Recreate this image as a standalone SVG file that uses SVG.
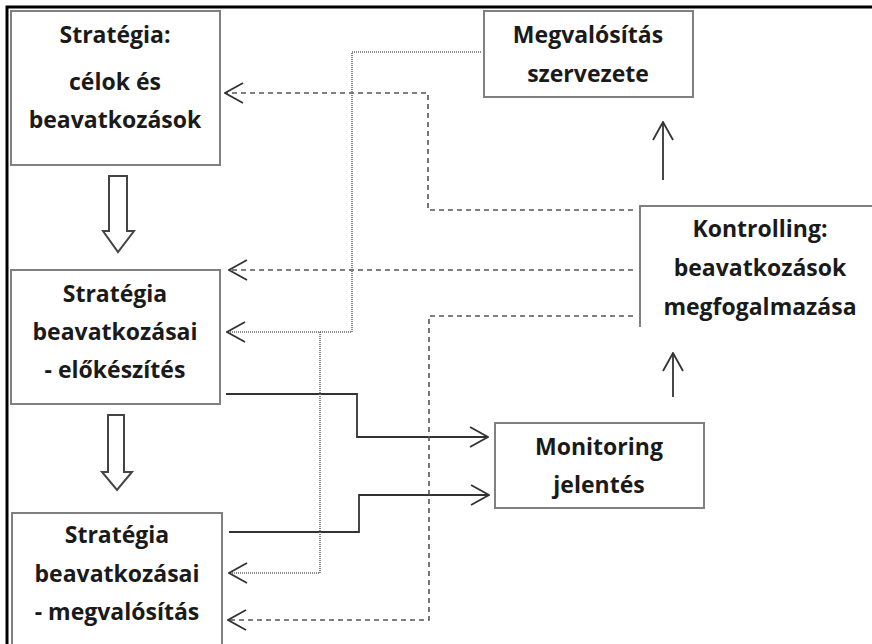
<svg xmlns="http://www.w3.org/2000/svg" width="872" height="644" viewBox="0 0 872 644">
<defs>
<marker id="open" viewBox="0 0 20 22" refX="19" refY="11" markerWidth="20" markerHeight="22" markerUnits="userSpaceOnUse" orient="auto">
<path d="M1,1 L19,11 L1,21" fill="none" stroke="#333" stroke-width="1.8"/>
</marker>
</defs>
<style>
.box{fill:#fff;stroke:#808080;stroke-width:2}
.t{font-family:"Open Sans",Lato,"Liberation Sans",sans-serif;font-weight:bold;font-size:23px;fill:#1a1a1a;text-anchor:middle}
.solid{fill:none;stroke:#333;stroke-width:1.8}
.dash{fill:none;stroke:#555;stroke-width:1.6;stroke-dasharray:5 4}
.dot{fill:none;stroke:#666;stroke-width:1.6;stroke-dasharray:1 1}
.hollow{fill:#fff;stroke:#444;stroke-width:2}
</style>
<rect width="872" height="644" fill="#fff"/>
<path d="M7,644 L7,7 L872,7" fill="none" stroke="#000" stroke-width="3"/>

<g id="connectors">
<path class="hollow" d="M109,176 L127,176 L127,231 L134,231 L118,252 L103,231 L109,231 Z"/>
<path class="hollow" d="M108,415 L124,415 L124,472 L132,472 L117,490 L102,472 L108,472 Z"/>
<path class="solid" d="M226,394 L357,394 L357,437 L488,437" marker-end="url(#open)"/>
<path class="solid" d="M229,532 L359,532 L359,495 L489,495" marker-end="url(#open)"/>
<path class="solid" d="M663,180 L663,122" marker-end="url(#open)"/>
<path class="solid" d="M673,397 L673,353" marker-end="url(#open)"/>
<path class="dash" d="M633,210 L428,210 L428,93 L225,93" marker-end="url(#open)"/>
<path class="dash" d="M633,270 L229,270" marker-end="url(#open)"/>
<path class="dash" d="M633,316 L429,316 L429,620 L228,620" marker-end="url(#open)"/>
<path class="dot" d="M481,52 L352,52 L352,332 L227,332" marker-end="url(#open)"/>
<path class="dot" d="M320,332 L320,573 L229,573" marker-end="url(#open)"/>
</g>

<g id="n-strategia">
<rect class="box" x="11" y="11" width="209" height="154"/>
<text class="t" x="115" y="43">Stratégia:</text>
<text class="t" x="115" y="90">célok és</text>
<text class="t" x="115" y="128">beavatkozások</text>
</g>
<g id="n-elokeszites">
<rect class="box" x="11" y="270" width="209" height="134"/>
<text class="t" x="115" y="302">Stratégia</text>
<text class="t" x="115" y="340">beavatkozásai</text>
<text class="t" x="115" y="378">- előkészítés</text>
</g>
<g id="n-megvalositas">
<rect class="box" x="12" y="513" width="210" height="140"/>
<text class="t" x="117" y="543">Stratégia</text>
<text class="t" x="117" y="582">beavatkozásai</text>
<text class="t" x="117" y="620">- megvalósítás</text>
</g>
<g id="n-szervezet">
<rect class="box" x="484" y="11" width="209" height="86"/>
<text class="t" x="588" y="43">Megvalósítás</text>
<text class="t" x="588" y="82">szervezete</text>
</g>
<g id="n-kontrolling">
<path d="M640,327 L640,206 L872,206" fill="none" stroke="#808080" stroke-width="2"/>
<text class="t" x="760" y="237">Kontrolling:</text>
<text class="t" x="760" y="276">beavatkozások</text>
<text class="t" x="760" y="315">megfogalmazása</text>
</g>
<g id="n-monitoring">
<rect class="box" x="495" y="423" width="209" height="85"/>
<text class="t" x="599" y="455">Monitoring</text>
<text class="t" x="599" y="493">jelentés</text>
</g>
</svg>
